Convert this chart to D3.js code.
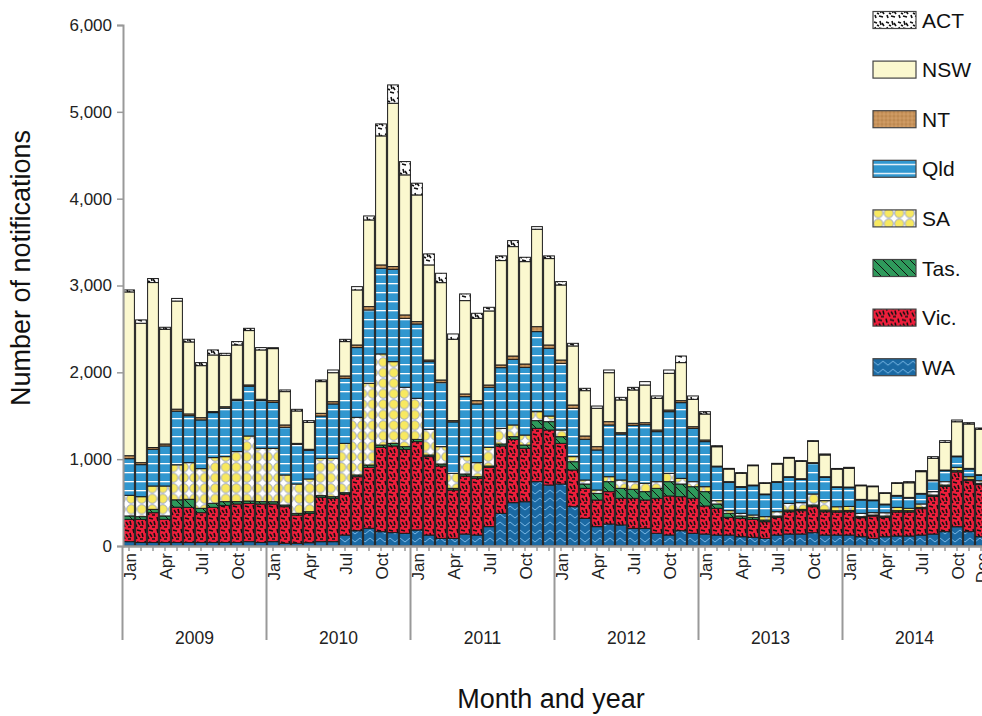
<!DOCTYPE html>
<html><head><meta charset="utf-8">
<script src="https://cdn.jsdelivr.net/npm/d3@7/dist/d3.min.js"></script>
<style>body{margin:0;background:#fff}svg{display:block;font-family:"Liberation Sans",Arial,sans-serif}</style>
</head><body><svg id="c" width="982" height="716"></svg>
<script>
// ---- data (monthly notifications, Jan 2009 - Dec 2014) ----
const years = ["2009","2010","2011","2012","2013","2014"];
const monthNames = ["Jan","Feb","Mar","Apr","May","Jun","Jul","Aug","Sep","Oct","Nov","Dec"];
const yTicks = [0,1000,2000,3000,4000,5000,6000];
const stateKeys = ["WA","Vic","Tas","SA","Qld","NT","NSW","ACT"];
const legendLabels = ["ACT","NSW","NT","Qld","SA","Tas.","Vic.","WA"];

const WA = [50,40,40,40,40,40,40,40,40,40,50,40,
 50,31,31,38,50,50,126,176,204,165,154,146,
 184,126,88,88,138,126,223,376,499,510,741,702,
 714,453,318,223,253,242,203,203,146,127,176,146,
 138,126,126,107,100,88,126,138,138,153,126,126,
 126,107,88,107,115,115,126,138,165,222,165,107];
const Vic = [257,267,344,267,407,405,344,405,428,444,441,444,
 434,422,326,338,511,499,473,622,702,971,998,967,
 1018,903,833,557,668,653,683,776,729,615,614,634,
 468,422,346,307,373,307,346,327,403,449,392,403,
 323,308,204,211,207,192,204,257,269,300,269,265,
 269,219,257,223,277,277,304,434,522,631,588,600];
const Tas = [39,31,38,39,85,93,50,47,43,27,27,27,
 26,19,19,19,19,19,15,20,27,27,30,31,
 26,19,23,19,23,19,15,23,31,38,89,96,
 77,96,50,76,115,115,104,96,115,165,146,134,
 165,50,46,27,23,19,15,19,15,19,19,15,
 15,12,12,15,15,15,15,15,15,15,15,15];
const SA = [238,230,269,345,403,422,457,526,518,576,749,614,
 615,346,338,377,430,442,568,664,941,1049,941,684,
 473,296,200,173,200,162,215,180,135,115,103,65,
 77,58,46,39,57,96,88,96,77,96,65,58,
 57,38,31,31,27,39,50,77,77,127,108,46,
 46,38,27,38,38,27,39,39,39,38,30,30];
const Qld = [422,369,423,461,618,541,561,518,560,588,573,550,
 529,549,457,330,487,626,749,803,844,986,1064,794,
 856,779,737,592,691,676,692,699,756,780,922,780,
 768,557,469,461,596,530,649,675,576,710,872,614,
 519,390,326,300,337,253,338,299,268,353,268,222,
 215,153,138,92,130,118,114,126,126,122,88,61];
const NT = [34,23,20,23,23,20,26,12,15,15,15,15,
 20,27,11,12,31,26,27,30,39,39,31,39,
 27,19,31,15,31,38,26,31,38,38,57,38,
 38,38,38,38,38,15,23,23,19,19,23,19,
 19,8,8,8,8,8,8,8,8,8,8,8,
 8,8,8,8,8,8,8,8,8,8,8,8];
const NSW = [1886,1605,1900,1321,1245,829,599,652,592,625,626,568,
 599,384,373,310,365,334,396,634,998,1486,1881,1613,
 1459,1095,1121,937,1075,948,853,1202,1260,1179,1122,995,
 864,680,522,442,564,377,384,434,365,423,438,315,
 299,223,145,153,223,122,203,215,200,245,250,203,
 215,157,153,123,138,168,250,250,318,395,511,523];
const ACT = [23,39,46,23,30,31,35,58,23,39,26,27,
 11,19,19,20,19,31,26,38,46,138,211,153,
 135,127,108,61,77,58,42,54,69,50,30,31,
 39,30,27,26,31,30,30,39,27,38,76,39,
 27,12,8,8,8,8,8,8,8,8,12,8,
 12,8,8,8,8,13,12,19,20,20,15,15];

const series = {WA, Vic, Tas, SA, Qld, NT, NSW, ACT};
const rows = WA.map((_, i) => {
  const r = {i, year: years[Math.floor(i/12)], month: monthNames[i%12]};
  stateKeys.forEach(k => r[k] = series[k][i]);
  return r;
});

const svg = d3.select("#c");
const defs = svg.append("defs");
const font = "'Liberation Sans',Arial,sans-serif";

// ---- patterns ----
function pat(id, w, h, bg, draw) {
  const p = defs.append("pattern").attr("id", id).attr("patternUnits","userSpaceOnUse")
    .attr("width", w).attr("height", h);
  p.append("rect").attr("width", w).attr("height", h).attr("fill", bg);
  draw(p);
}
pat("pACT", 12, 12, "#ffffff", p => {
  ["M1 2 L4 3","M7 1 L8 5","M2 7 L3 10","M6 8 L10 9","M9 3 L11 6","M4 5 L6 6"].forEach(d =>
    p.append("path").attr("d", d).attr("stroke","#111").attr("stroke-width",1.6).attr("fill","none"));
});
pat("pNT", 4, 4, "#C8935A", p => {
  p.append("rect").attr("x",0.5).attr("y",0.5).attr("width",1).attr("height",1).attr("fill","#9c6a3a");
  p.append("rect").attr("x",2.5).attr("y",2.5).attr("width",1).attr("height",1).attr("fill","#e2b585");
});
pat("pQld", 10, 9, "#3197CF", p => {
  p.append("rect").attr("y",4).attr("width",10).attr("height",1.3).attr("fill","#ffffff");
});
pat("pSA", 10.5, 10.5, "#ffffff", p => {
  p.append("circle").attr("cx",5.25).attr("cy",5.25).attr("r",4.6).attr("fill","#F8E960")
    .attr("stroke","#8E9BC8").attr("stroke-width",0.9);
});
pat("pTas", 9, 9, "#2E9A5B", p => {
  p.append("path").attr("d","M-1 -1 L10 10 M-1 8 L1 10 M8 -1 L10 1")
    .attr("stroke","#111").attr("stroke-width",1).attr("fill","none");
});
pat("pVic", 12, 12, "#EE1E3B", p => {
  ["M1 1 L2 5","M5 2 L9 3","M10 5 L11 9","M3 7 L5 11","M6 6 L8 9","M8 11 L11 11"].forEach(d =>
    p.append("path").attr("d", d).attr("stroke","#111").attr("stroke-width",1.5).attr("fill","none"));
});
pat("pWA", 10, 8, "#1B69A3", p => {
  p.append("path").attr("d","M0 2 L5 6 L10 2").attr("stroke","#78B6E4").attr("stroke-width",1).attr("fill","none");
});
const fills = {WA:"url(#pWA)", Vic:"url(#pVic)", Tas:"url(#pTas)", SA:"url(#pSA)",
  Qld:"url(#pQld)", NT:"url(#pNT)", NSW:"#FBF8CF", ACT:"url(#pACT)"};
const legendKey = {"ACT":"ACT","NSW":"NSW","NT":"NT","Qld":"Qld","SA":"SA","Tas.":"Tas","Vic.":"Vic","WA":"WA"};

// ---- scales ----
const x = d3.scaleBand().domain(rows.map(d => d.i)).range([123, 123 + 72*12])
  .paddingInner(0.1).paddingOuter(0.05);
const y = d3.scaleLinear().domain([0, 6000]).range([546, 25]);

// ---- bars ----
const stack = d3.stack().keys(stateKeys)(rows);
const g = svg.append("g");
stack.forEach(layer => {
  g.append("g").selectAll("rect").data(layer).join("rect")
    .attr("x", d => x(d.data.i))
    .attr("width", x.bandwidth())
    .attr("y", d => y(d[1]))
    .attr("height", d => Math.max(0, y(d[0]) - y(d[1])))
    .attr("fill", fills[layer.key])
    .attr("stroke", "#1a1a1a").attr("stroke-width", 1);
});

// ---- y axis ----
const yAxis = svg.append("g").attr("transform","translate(123,0)")
  .call(d3.axisLeft(y).tickValues(yTicks).tickFormat(d3.format(",")).tickSize(6).tickPadding(5));
yAxis.select(".domain").attr("stroke","#999").attr("stroke-width",2);
yAxis.selectAll(".tick line").attr("stroke","#999").attr("stroke-width",1.5);
yAxis.selectAll("text").attr("font-size",17).attr("font-family",font).attr("fill","#222");

// ---- x axis ----
const xAxisG = svg.append("g").attr("transform","translate(0,546)");
xAxisG.call(d3.axisBottom(x).tickSize(5).tickFormat(""));
xAxisG.select(".domain").attr("d", "M123,0.5H982").attr("stroke","#999").attr("stroke-width",2.5);
xAxisG.selectAll(".tick line").attr("stroke","#999").attr("stroke-width",1.5);
const labeled = rows.filter(d => [0,3,6,9].includes(d.i % 12) || d.i === 71);
svg.append("g").selectAll("text").data(labeled).join("text")
  .attr("transform", d => `translate(${x(d.i) + x.bandwidth()/2 + 1},553) rotate(-90)`)
  .attr("text-anchor","end").attr("dy","0.35em")
  .attr("font-size",17).attr("font-family",font).attr("fill","#222")
  .text(d => d.month);
// year separators and labels
const yearStart = years.map((yr, k) => ({yr, x0: x(k*12) - x.step()*x.paddingInner()/2 - 0.5}));
svg.append("g").selectAll("line").data(yearStart).join("line")
  .attr("x1", d => d.x0).attr("x2", d => d.x0).attr("y1", 546).attr("y2", 640)
  .attr("stroke","#999").attr("stroke-width",2);
svg.append("g").selectAll("text").data(yearStart).join("text")
  .attr("x", d => d.x0 + 72).attr("y", 644)
  .attr("text-anchor","middle").attr("font-size",17.5).attr("font-family",font).attr("fill","#222")
  .text(d => d.yr);

// ---- titles ----
svg.append("text").attr("x", 551).attr("y", 708).attr("text-anchor","middle")
  .attr("font-size",27).attr("font-family",font).attr("fill","#111").text("Month and year");
svg.append("text").attr("transform","translate(30,268) rotate(-90)").attr("text-anchor","middle")
  .attr("font-size",27).attr("font-family",font).attr("fill","#111").text("Number of notifications");

// ---- legend ----
const leg = svg.append("g").selectAll("g").data(legendLabels).join("g")
  .attr("transform", (d, i) => `translate(873,${20 + i*49.6})`);
leg.append("rect").attr("x",0).attr("y",-8.5).attr("width",43).attr("height",17)
  .attr("fill", d => fills[legendKey[d]]).attr("stroke","#444").attr("stroke-width",1.2);
leg.append("text").attr("x",49).attr("y",0).attr("dy","0.36em")
  .attr("font-size",21).attr("font-family",font).attr("fill","#111").text(d => d);
</script></body></html>
